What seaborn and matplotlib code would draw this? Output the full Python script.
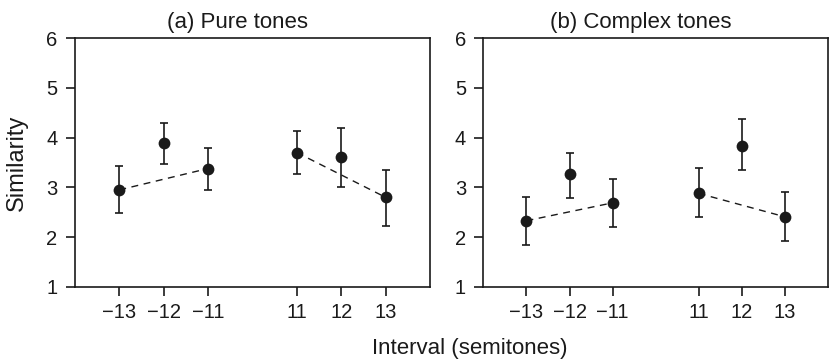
import matplotlib
matplotlib.use("Agg")
import matplotlib.pyplot as plt
import seaborn as sns
import pandas as pd

intervals = ["−13", "−12", "−11", "11", "12", "13"]
positions = [0, 1, 2, 4, 5, 6]

pure_mean = [2.95, 3.90, 3.38, 3.70, 3.62, 2.80]
pure_low = [2.49, 3.47, 2.94, 3.26, 3.00, 2.23]
pure_high = [3.44, 4.29, 3.80, 4.14, 4.20, 3.36]

complex_mean = [2.33, 3.26, 2.69, 2.88, 3.83, 2.41]
complex_low = [1.85, 2.79, 2.21, 2.40, 3.36, 1.93]
complex_high = [2.80, 3.70, 3.17, 3.39, 4.37, 2.91]

titles = ["(a) Pure tones", "(b) Complex tones"]

sns.set_theme(style="ticks")
plt.rcParams["font.family"] = ["Liberation Sans", "DejaVu Sans"]
ink = "#1a1a1a"

fig = plt.figure(figsize=(8.32, 3.6), dpi=100)
axes = [fig.add_axes([0.090, 0.203, 0.427, 0.691]),
        fig.add_axes([0.581, 0.203, 0.414, 0.691])]

for ax, title, m, lo, hi in zip(axes, titles,
                                [pure_mean, complex_mean],
                                [pure_low, complex_low],
                                [pure_high, complex_high]):
    df = pd.DataFrame({"pos": positions, "mean": m, "low": lo, "high": hi})
    # dashed connectors: -13 to -11 and 11 to 13
    for a, b in [(0, 2), (3, 5)]:
        seg = df.iloc[[a, b]]
        sns.lineplot(data=seg, x="pos", y="mean", ax=ax, color=ink,
                     linestyle=(0, (5, 4)), linewidth=1.0, zorder=1)
    ax.errorbar(df["pos"], df["mean"],
                yerr=[df["mean"] - df["low"], df["high"] - df["mean"]],
                fmt="none", ecolor=ink, elinewidth=1.2, capsize=3, capthick=1.2,
                zorder=2)
    sns.scatterplot(data=df, x="pos", y="mean", ax=ax, color=ink, s=72,
                    edgecolor=ink, linewidth=0, zorder=3)
    ax.set_xlim(-1, 7)
    ax.set_ylim(1, 6)
    ax.set_xticks(positions)
    ax.set_xticklabels(intervals)
    ax.set_yticks([1, 2, 3, 4, 5, 6])
    ax.set_xlabel("")
    ax.set_ylabel("")
    ax.set_title(title, fontsize=16, color=ink, pad=7, x=0.458)
    for s in ax.spines.values():
        s.set_linewidth(1.2)
        s.set_color(ink)
    ax.tick_params(axis="both", direction="out", length=6.5, width=1.2,
                   colors=ink, labelsize=14.5, top=False, right=False)
    ax.tick_params(axis="x", pad=5)
    ax.tick_params(axis="y", pad=6)

fig.text(0.020, 0.548, "Similarity", rotation=90, ha="center", va="center",
         fontsize=17, color=ink)
fig.text(0.565, 0.033, "Interval (semitones)", ha="center", va="center",
         fontsize=16, color=ink)

fig.savefig("out.png", dpi=100)
